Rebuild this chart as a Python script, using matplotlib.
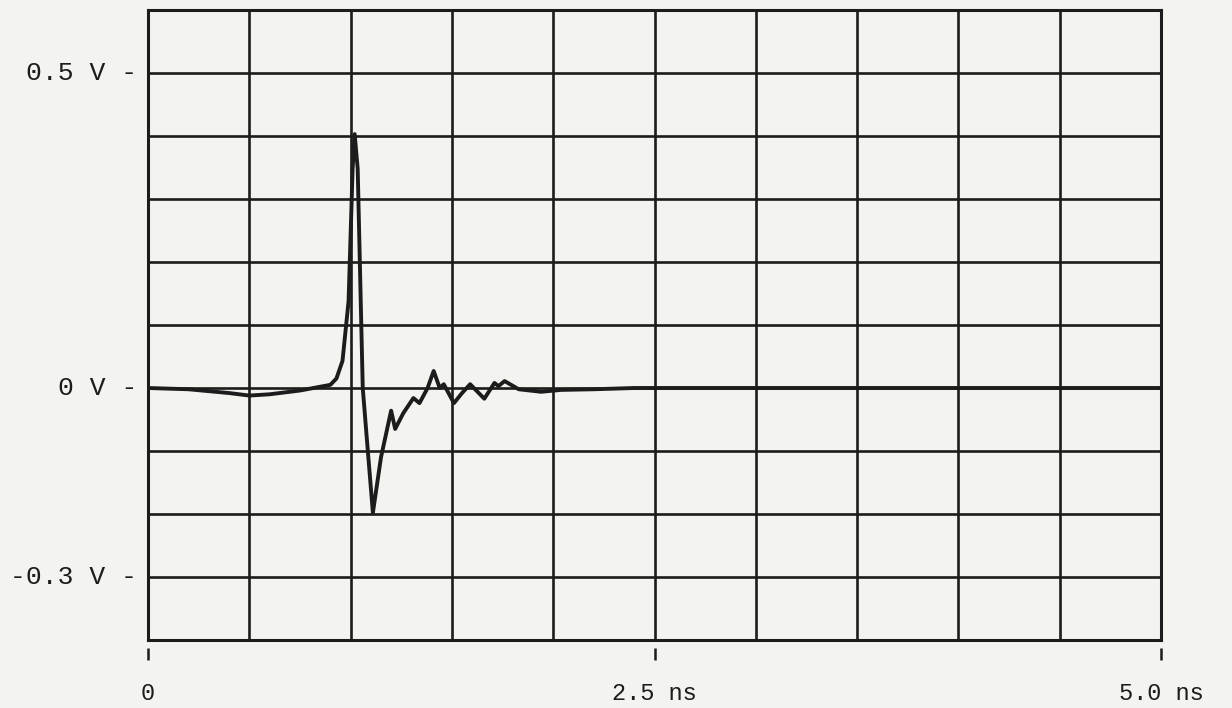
import numpy as np
import matplotlib
matplotlib.use("Agg")
import matplotlib.pyplot as plt

# waveform samples (time in ns, amplitude in V)
time_ns = [0.00, 0.20, 0.40, 0.50, 0.60, 0.75, 0.85, 0.90, 0.93, 0.96, 0.99, 1.01, 1.02,
           1.035, 1.05, 1.06, 1.08, 1.11, 1.15, 1.20, 1.22, 1.26, 1.31, 1.34, 1.38, 1.41,
           1.44, 1.46, 1.51, 1.55, 1.59, 1.66, 1.71, 1.73, 1.76, 1.83, 1.94, 2.04, 2.20,
           2.40, 3.00, 4.00, 5.00]
volts = [0.000, -0.002, -0.008, -0.012, -0.010, -0.004, 0.002, 0.005, 0.015, 0.043, 0.138,
         0.348, 0.403, 0.348, 0.138, 0.000, -0.080, -0.198, -0.110, -0.036, -0.065, -0.040,
         -0.016, -0.024, 0.000, 0.027, 0.000, 0.006, -0.024, -0.008, 0.006, -0.017, 0.008,
         0.003, 0.011, -0.002, -0.006, -0.003, -0.002, 0.000, 0.000, 0.000, 0.000]

x_tick_vals = [0.0, 2.5, 5.0]
x_tick_labels = ["0", "2.5 ns", "5.0 ns"]
y_tick_vals = [0.5, 0.0, -0.3]
y_tick_labels = ["0.5 V -", "0 V -", "-0.3 V -"]

bg = "#f3f3ef"
ink = "#1c1c1c"

fig = plt.figure(figsize=(12.32, 7.08), dpi=100, facecolor=bg)
ax = fig.add_axes([148 / 1232, 1 - 640 / 708, 1013 / 1232, 630 / 708])
ax.set_facecolor(bg)

ax.set_xlim(0, 5)
ax.set_ylim(-0.4, 0.6)

# grid divisions (0.5 ns x 0.1 V)
for gx in np.arange(0, 5.001, 0.5):
    ax.axvline(gx, color=ink, linewidth=1.9, zorder=1)
for gy in np.arange(-0.4, 0.6001, 0.1):
    ax.axhline(gy, color=ink, linewidth=1.9, zorder=1)

ax.set_xticks(x_tick_vals)
ax.set_xticklabels(x_tick_labels, family="Liberation Mono", fontsize=17, color=ink)
ax.set_yticks(y_tick_vals)
ax.set_yticklabels(y_tick_labels, family="Liberation Mono", fontsize=19, color=ink)
ax.tick_params(axis="x", which="major", length=0, pad=30)
ax.tick_params(axis="y", which="major", length=0, pad=8)
for lbl in ax.get_yticklabels():
    lbl.set_verticalalignment("bottom")
    lbl.set_y(lbl.get_position()[1])
for lbl in ax.get_yticklabels():
    lbl.set_va("center")

for s in ax.spines.values():
    s.set_color(ink)
    s.set_linewidth(2.2)
    s.set_zorder(2)

# small tick marks below the axis, detached from it
ax.vlines(x_tick_vals, -0.013, -0.032, transform=ax.get_xaxis_transform(),
          colors=ink, linewidth=1.8, clip_on=False)

ax.plot(time_ns, volts, color=ink, linewidth=2.8, solid_joinstyle="round",
        solid_capstyle="round", zorder=3)

fig.savefig("out.png", dpi=100, facecolor=bg)
